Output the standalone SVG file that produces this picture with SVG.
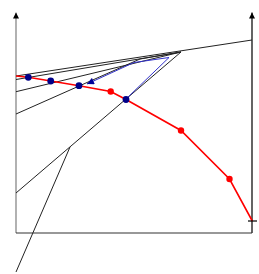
<svg xmlns="http://www.w3.org/2000/svg" width="259" height="274" viewBox="0 0 259 274">
<style>
.ln{stroke:#222;stroke-width:1;fill:none}
.ax{stroke-width:1.3;fill:none}
.red{stroke:#ff0000;stroke-width:1.6;fill:none}
.bd{fill:#000088}
.rd{fill:#ff0000}
.bl{stroke:#3333cc;stroke-width:1;fill:none}
</style>
<defs>
<marker id="ah" viewBox="0 0 10 10" refX="10" refY="5" markerWidth="6" markerHeight="12" markerUnits="userSpaceOnUse" orient="auto">
<path d="M0,0 L10,5 L0,10 Z" fill="#000"/>
</marker>
<marker id="ahg" viewBox="0 0 10 10" refX="10" refY="5" markerWidth="6" markerHeight="12" markerUnits="userSpaceOnUse" orient="auto">
<path d="M0,0 L10,5 L0,10 Z" fill="#000"/>
</marker>
<marker id="ba" viewBox="0 0 10 10" refX="10" refY="5" markerWidth="9" markerHeight="7" markerUnits="userSpaceOnUse" orient="auto">
<path d="M0,0 L10,5 L0,10 Z" fill="#000099"/>
</marker>
</defs>
<g id="axes">
<line x1="16" y1="233" x2="16" y2="12.5" class="ax" stroke="#888" marker-end="url(#ahg)"/>
<line x1="252" y1="233" x2="252" y2="12.5" class="ax" stroke="#111" marker-end="url(#ah)"/>
<line x1="16" y1="233" x2="252" y2="233" stroke="#333" stroke-width="1.2"/>
</g>
<g id="connectors">
<line x1="16" y1="76" x2="252" y2="40" class="ln"/>
<line x1="16" y1="79.5" x2="181" y2="52" class="ln"/>
<line x1="16" y1="91.7" x2="181" y2="52" class="ln"/>
<polyline points="16,114 140,59 181,52" class="ln"/>
<line x1="16" y1="193" x2="181" y2="52" class="ln"/>
<line x1="70" y1="147" x2="16" y2="272" class="ln"/>
<path d="M126,99 L169,57.5 L134,62.5 L87,84" class="bl" marker-end="url(#ba)"/>
</g>
<g id="curve">
<polyline points="16,76 28.3,77.3 50.7,81 79,85.7 110.7,91.5 126,99.5 181,130.5 229.5,179 252.3,221" class="red"/>
<line x1="248" y1="221" x2="257" y2="221" stroke="#000" stroke-width="1.2"/>
</g>
<g id="points">
<circle cx="28.3" cy="77.3" r="3.4" class="bd"/>
<circle cx="50.7" cy="81" r="3.4" class="bd"/>
<circle cx="79" cy="85.7" r="3.4" class="bd"/>
<circle cx="110.7" cy="91.5" r="3.2" class="rd"/>
<circle cx="126" cy="99.5" r="3.4" class="bd"/>
<circle cx="181" cy="130.5" r="3.2" class="rd"/>
<circle cx="229.5" cy="179" r="3.2" class="rd"/>
</g>
</svg>
